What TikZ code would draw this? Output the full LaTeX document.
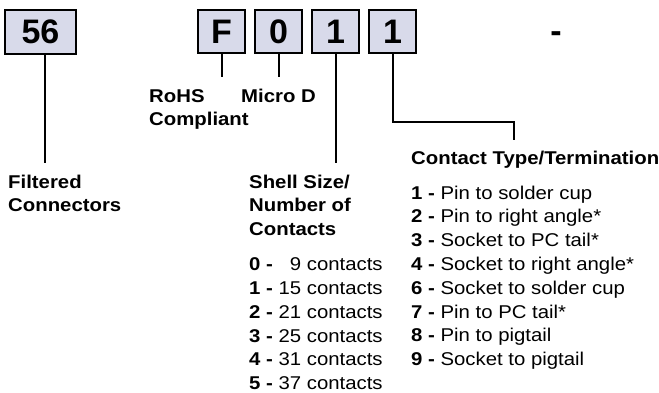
\documentclass[tikz,border=0pt]{standalone}
\usepackage{fontspec}
\setmainfont{Liberation Sans}[FakeStretch=1.1]
\newfontfamily\digitfont{Liberation Sans}
\usetikzlibrary{positioning,calc}
\definecolor{boxfill}{HTML}{D8DAEA}
\tikzset{
  pbox/.style={draw,line width=2pt,fill=boxfill,minimum width=47pt,minimum height=43pt,inner sep=0pt,
    font=\digitfont\bfseries\fontsize{34}{34}\selectfont},
  lead/.style={line width=2pt},
  lbl/.style={inner sep=0pt,anchor=base west,align=left,font=\fontsize{18.5}{23.8}\selectfont}
}

\begin{document}
\begin{tikzpicture}[x=1pt,y=-1pt]
\useasboundingbox (0,0) rectangle (659,392);
% part number boxes
\node[pbox,minimum width=71pt,minimum height=44pt] (b56) at (40.5,32) {56};
\node[pbox] (bF) at (221.5,31.5) {F};
\node[pbox,right=8pt of bF] (b0) {0};
\node[pbox,right=8pt of b0] (bS) {1};
\node[pbox,right=8pt of bS] (bT) {1};
\node[inner sep=0pt,anchor=base,font=\digitfont\bfseries\fontsize{34}{34}\selectfont] (dash) at (556,42) {-};
% labels (base = last line)
\node[lbl] (filt) at (8,211.8) {\textbf{Filtered}\\\textbf{Connectors}};
\node[lbl] (rohs) at (149,125.8) {\textbf{RoHS}\\\textbf{Compliant}};
\node[lbl] (micro) at (241,102) {\textbf{Micro D}};
\node[lbl] (shell) at (249,235.6) {\textbf{Shell Size/}\\\textbf{Number of}\\\textbf{Contacts}};
\node[lbl] (shlist) at (249,389.6) {\textbf{0 -} \phantom{1}9 contacts\\\textbf{1 -} 15 contacts\\\textbf{2 -} 21 contacts\\
  \textbf{3 -} 25 contacts\\\textbf{4 -} 31 contacts\\\textbf{5 -} 37 contacts};
\node[lbl] (ctype) at (411,164) {\textbf{Contact Type/Termination}};
\node[lbl] (ctlist) at (411,365.6) {\textbf{1 -} Pin to solder cup\\\textbf{2 -} Pin to right angle*\\
  \textbf{3 -} Socket to PC tail*\\\textbf{4 -} Socket to right angle*\\\textbf{6 -} Socket to solder cup\\
  \textbf{7 -} Pin to PC tail*\\\textbf{8 -} Pin to pigtail\\\textbf{9 -} Socket to pigtail};
% leaders
\coordinate (fend) at (45,163);
\coordinate (rend) at (222,77);
\coordinate (mend) at (277,77);
\coordinate (send) at (332,163);
\coordinate (bend) at (514,122);
\coordinate (tend) at (514,140);
\draw[lead] (b56.south -| fend) -- (fend);
\draw[lead] (bF) -- (bF |- rend);
\draw[lead] (b0) -- (b0 |- mend);
\draw[lead] (bS) -- (bS |- send);
\draw[lead] (bT) |- (bend) -- (tend);
\end{tikzpicture}
\end{document}
